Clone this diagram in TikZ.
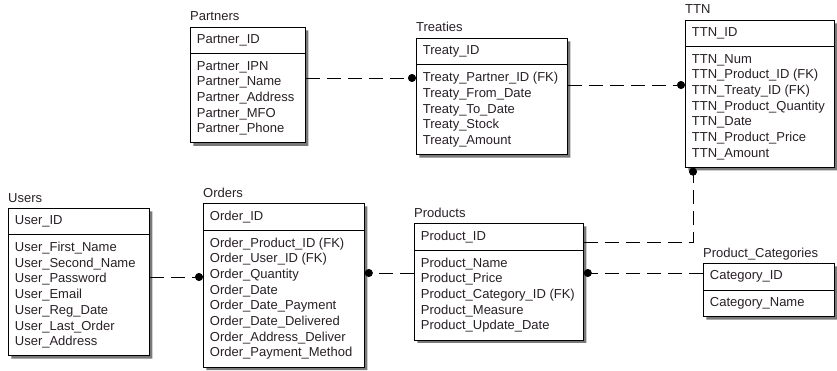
\documentclass[tikz,border=0pt]{standalone}
\usepackage{fontspec}
\setmainfont{Liberation Sans}
\usepackage{tikz}
\usetikzlibrary{positioning}
\usetikzlibrary{shapes.multipart}
\usetikzlibrary{shadows}
\usetikzlibrary{arrows.meta}

\definecolor{erdtext}{RGB}{40,32,38}

\tikzset{
  entity/.style={draw, line width=0.8pt, fill=white, anchor=north west,
    rectangle split, rectangle split parts=2, rectangle split part align={left},
    align=left, inner xsep=6.5pt, inner ysep=7pt, minimum width=#1,
    text=erdtext, font=\fontsize{13}{15.7}\selectfont,
    drop shadow={shadow xshift=3pt, shadow yshift=-3pt, fill=black!75, opacity=0.7}},
  tabname/.style={inner sep=0pt, text=erdtext, font=\fontsize{13}{15.7}\selectfont},
  link/.style={line width=0.8pt, dash pattern=on 14pt off 7pt, -{Circle[length=8pt]}},
}

\begin{document}
\begin{tikzpicture}[x=1pt, y=1pt]
    \useasboundingbox (0,0) rectangle (837,370);

    % tables
    \node[entity=115pt] (partners) at (190,343) {Partner\_ID
      \nodepart{two} Partner\_IPN\\ Partner\_Name\\ Partner\_Address\\ Partner\_MFO\\ Partner\_Phone};
    \node[entity=151pt] (treaties) at (416,332) {Treaty\_ID
      \nodepart{two} Treaty\_Partner\_ID (FK)\\ Treaty\_From\_Date\\ Treaty\_To\_Date\\ Treaty\_Stock\\ Treaty\_Amount};
    \node[entity=149pt] (ttn) at (685,350) {TTN\_ID
      \nodepart{two} TTN\_Num\\ TTN\_Product\_ID (FK)\\ TTN\_Treaty\_ID (FK)\\ TTN\_Product\_Quantity\\ TTN\_Date\\ TTN\_Product\_Price\\ TTN\_Amount};
    \node[entity=141pt] (users) at (8,162) {User\_ID
      \nodepart{two} User\_First\_Name\\ User\_Second\_Name\\ User\_Password\\ User\_Email\\ User\_Reg\_Date\\ User\_Last\_Order\\ User\_Address};
    \node[entity=161pt] (orders) at (203,167) {Order\_ID
      \nodepart{two} Order\_Product\_ID (FK)\\ Order\_User\_ID (FK)\\ Order\_Quantity\\ Order\_Date\\ Order\_Date\_Payment\\ Order\_Date\_Delivered\\ Order\_Address\_Deliver\\ Order\_Payment\_Method};
    \node[entity=169pt] (products) at (414,147) {Product\_ID
      \nodepart{two} Product\_Name\\ Product\_Price\\ Product\_Category\_ID (FK)\\ Product\_Measure\\ Product\_Update\_Date};
    \node[entity=131pt] (categories) at (703,107) {Category\_ID
      \nodepart{two} Category\_Name};

    % table names
    \node[tabname, above=6pt of partners.north west, anchor=base west] (partners-name) {Partners};
    \node[tabname, above=6pt of treaties.north west, anchor=base west] (treaties-name) {Treaties};
    \node[tabname, above=6pt of ttn.north west, anchor=base west] (ttn-name) {TTN};
    \node[tabname, above=6pt of users.north west, anchor=base west] (users-name) {Users};
    \node[tabname, above=6pt of orders.north west, anchor=base west] (orders-name) {Orders};
    \node[tabname, above=6pt of products.north west, anchor=base west] (products-name) {Products};
    \node[tabname, above=6pt of categories.north west, anchor=base west] (categories-name) {Product\_Categories};

    % relations
    \draw[link] (partners.east |- 0,292) -- (treaties.west |- 0,292);
    \draw[link] (treaties.east |- 0,285) -- (ttn.west |- 0,285);
    \draw[link] (products.east |- 0,128) -| ([xshift=8pt]ttn.south west);
    \draw[link] (users.east |- 0,93) -- (orders.west |- 0,93);
    \draw[link] (products.west |- 0,97) -- (orders.east |- 0,97);
    \draw[link] (categories.west |- 0,97) -- (products.east |- 0,97);
\end{tikzpicture}
\end{document}
